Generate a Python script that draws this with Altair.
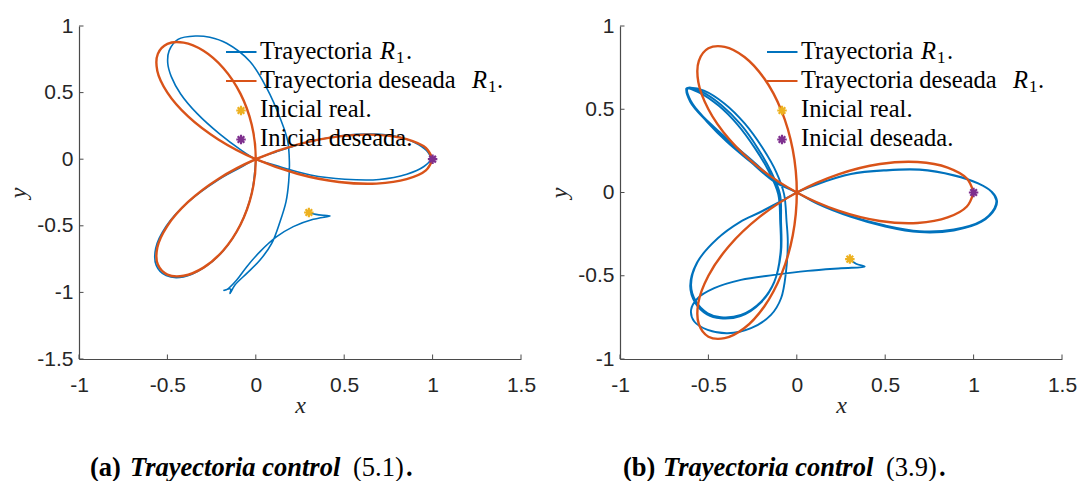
import altair as alt
import pandas as pd

# ---- desired trajectory (three-petal rose), same in both panels ----
DESIRED_X = [1.000, 0.962, 0.853, 0.683, 0.470, 0.235, 0.000, -0.212, -0.383, -0.500,
             -0.557, -0.554, -0.500, -0.408, -0.296, -0.183, -0.087, -0.023, 0.000,
             -0.023, -0.087, -0.183, -0.296, -0.408, -0.500, -0.554, -0.557, -0.500,
             -0.383, -0.212, 0.000, 0.235, 0.470, 0.683, 0.853, 0.962, 1.000]
DESIRED_Y = [0.000, 0.084, 0.150, 0.183, 0.171, 0.109, 0.000, -0.148, -0.321, -0.500,
             -0.663, -0.791, -0.866, -0.875, -0.814, -0.683, -0.492, -0.258, 0.000,
             0.258, 0.492, 0.683, 0.814, 0.875, 0.866, 0.791, 0.663, 0.500,
             0.321, 0.148, 0.000, -0.109, -0.171, -0.183, -0.150, -0.084, 0.000]

# ---- real trajectory, control (5.1) ----
REAL_A_X = [0.300, 0.340, 0.385, 0.420, 0.325, 0.212, 0.118, 0.024, -0.051, -0.108,
            -0.160, -0.180, -0.142, -0.146, -0.118, -0.051, 0.024, 0.090, 0.137, 0.171,
            0.186, 0.190, 0.180, 0.140, 0.062, -0.033, -0.165, -0.260, -0.340,
            -0.440, -0.490, -0.498, -0.478, -0.425, -0.330, -0.205, -0.085, 0.000,
            0.115, 0.309, 0.504, 0.698, 0.854, 0.951, 0.990, 0.975, 0.920, 0.820,
            0.680, 0.504, 0.309, 0.115, 0.000,
            -0.100, -0.212, -0.388, -0.508, -0.566, -0.563, -0.507, -0.409, -0.297,
            -0.184, -0.088, -0.024, 0.000]
REAL_A_Y = [-0.400, -0.414, -0.422, -0.426, -0.451, -0.506, -0.582, -0.694, -0.807, -0.907,
            -0.975, -0.985, -0.975, -1.008, -0.945, -0.857, -0.757, -0.632, -0.469, -0.318,
            -0.170, -0.020, 0.140, 0.300, 0.533, 0.733, 0.870, 0.915, 0.925,
            0.900, 0.815, 0.720, 0.620, 0.490, 0.340, 0.190, 0.070, 0.000,
            -0.048, -0.118, -0.150, -0.152, -0.113, -0.055, 0.000, 0.050, 0.110, 0.163,
            0.188, 0.180, 0.133, 0.055, 0.000,
            -0.072, -0.155, -0.328, -0.505, -0.668, -0.797, -0.874, -0.884, -0.818,
            -0.688, -0.494, -0.259, 0.000]

# ---- real trajectory, control (3.9) ----
REAL_B_X = [0.300, 0.335, 0.384,
            0.250, 0.062, -0.127, -0.316, -0.467, -0.560, -0.598, -0.580, -0.504, -0.391,
            -0.259, -0.146, -0.089, -0.061, -0.051, -0.058, -0.072,
            -0.115, -0.195, -0.295, -0.410, -0.525, -0.600, -0.625,
            -0.612, -0.560, -0.470, -0.360, -0.240, -0.115, 0.000,
            0.115, 0.306, 0.500, 0.694, 0.888, 1.043, 1.118, 1.128, 1.100, 1.023,
            0.888, 0.694, 0.500, 0.306, 0.112, 0.000,
            -0.100, -0.200, -0.316, -0.447, -0.560, -0.598, -0.570, -0.504, -0.429,
            -0.316, -0.202, -0.127, -0.089, -0.089, -0.095,
            -0.146, -0.221, -0.316, -0.429, -0.542, -0.617,
            -0.598, -0.504, -0.391, -0.259, -0.127, 0.000,
            0.118, 0.306, 0.500, 0.694, 0.888, 1.045, 1.122, 1.132, 1.104, 1.025,
            0.888, 0.694, 0.500, 0.306, 0.112, 0.000,
            -0.100, -0.205, -0.322, -0.452, -0.565, -0.603, -0.575, -0.508, -0.432,
            -0.318, -0.204, -0.128, -0.092, -0.094, -0.105,
            -0.160, -0.238, -0.333, -0.443, -0.552, -0.622,
            -0.603, -0.508, -0.394, -0.262, -0.128, 0.000,
            0.117, 0.306, 0.500]
REAL_B_Y = [-0.400, -0.428, -0.445,
            -0.455, -0.471, -0.495, -0.525, -0.575, -0.635, -0.705, -0.775, -0.825, -0.845,
            -0.815, -0.735, -0.635, -0.475, -0.294, -0.174, -0.010,
            0.120, 0.270, 0.415, 0.535, 0.612, 0.630, 0.625,
            0.575, 0.490, 0.395, 0.290, 0.180, 0.065, 0.000,
            -0.062, -0.142, -0.198, -0.232, -0.222, -0.172, -0.094, -0.045, 0.006, 0.056,
            0.104, 0.138, 0.134, 0.112, 0.050, 0.000,
            -0.058, -0.113, -0.174, -0.275, -0.415, -0.555, -0.655, -0.725, -0.749,
            -0.735, -0.655, -0.535, -0.355, -0.174, -0.010,
            0.126, 0.266, 0.407, 0.527, 0.607, 0.627,
            0.547, 0.427, 0.306, 0.186, 0.066, 0.000,
            -0.068, -0.146, -0.204, -0.238, -0.228, -0.176, -0.096, -0.047, 0.004, 0.054,
            0.102, 0.136, 0.132, 0.110, 0.048, 0.000,
            -0.060, -0.118, -0.178, -0.280, -0.422, -0.562, -0.662, -0.732, -0.756,
            -0.742, -0.662, -0.540, -0.358, -0.176, -0.010,
            0.130, 0.268, 0.405, 0.522, 0.600, 0.624,
            0.545, 0.425, 0.303, 0.184, 0.065, 0.000,
            -0.066, -0.144, -0.200]

# initial points
REAL_START = (0.30, -0.40)
DESIRED_START = (1.0, 0.0)

X_TICKS = [-1, -0.5, 0, 0.5, 1, 1.5]
Y_TICKS_A = [-1.5, -1, -0.5, 0, 0.5, 1]
Y_TICKS_B = [-1, -0.5, 0, 0.5, 1]

LEGEND_LABELS = ["Trayectoria", "Trayectoria deseada", "Inicial real.", "Inicial deseada."]

BLUE = "#0072BD"
ORANGE = "#D95319"
YELLOW = "#EDB120"
PURPLE = "#7E2F8E"
INK = "#262626"
AXIS = "#4a4a4a"
W, H = 442, 333
SERIF = "Liberation Serif"
SANS = "Liberation Sans"
ASTERISK = "M-1,0L1,0M0,-1L0,1M-0.7,-0.7L0.7,0.7M-0.7,0.7L0.7,-0.7"
ONE = pd.DataFrame({"k": [0]})

LABEL_EXPR = "datum.value < 0 ? '-' + format(-datum.value, '~g') : format(datum.value, '~g')"


def text_piece(t, px, py, size=24.5, style="normal", weight="normal"):
    return alt.Chart(ONE).mark_text(
        text=t, align="left", baseline="alphabetic", font=SERIF, fontSize=size,
        fontStyle=style, fontWeight=weight, color="black",
    ).encode(x=alt.value(px), y=alt.value(py))


def star(px, py, color):
    return alt.Chart(ONE).mark_point(
        shape=ASTERISK, filled=False, size=90, strokeWidth=2.2, color=color, opacity=1
    ).encode(x=alt.value(px), y=alt.value(py))


def panel(real_x, real_y, real_width, ydom, yticks, tag, ref):
    xs = alt.Scale(domain=[-1, 1.5], nice=False, zero=False)
    ys = alt.Scale(domain=ydom, nice=False, zero=False)
    common = dict(labelExpr=LABEL_EXPR, grid=False, ticks=False, tickSize=0,
                  labelFlush=False, labelFont=SANS, labelFontSize=21, labelColor=INK,
                  domainColor=AXIS, domainWidth=1.2, titleFont=SERIF,
                  titleFontStyle="italic", titleFontWeight="normal", titleFontSize=24,
                  titleColor=INK, titleBaseline="middle")
    xax = alt.Axis(values=X_TICKS, title="x", labelPadding=15,
                   titleX=W / 2, titleY=46, **common)
    yax = alt.Axis(values=yticks, title="y", labelPadding=6,
                   titleX=-61, titleY=H / 2, titleAngle=270, **common)
    X = alt.X("x:Q", scale=xs, axis=xax)
    Y = alt.Y("y:Q", scale=ys, axis=yax)

    def curve(xv, yv, color, width):
        assert len(xv) == len(yv)
        df = pd.DataFrame({"x": xv, "y": yv, "i": list(range(len(xv)))})
        return alt.Chart(df).mark_line(
            color=color, strokeWidth=width, interpolate="catmull-rom"
        ).encode(x=X, y=Y, order="i:Q")

    real = curve(real_x, real_y, BLUE, real_width)
    desired = curve(DESIRED_X, DESIRED_Y, ORANGE, 2.4)

    starts = alt.Chart(pd.DataFrame({
        "x": [REAL_START[0], DESIRED_START[0]],
        "y": [REAL_START[1], DESIRED_START[1]],
        "c": [YELLOW, PURPLE],
    })).mark_point(shape=ASTERISK, filled=False, size=90, strokeWidth=2.2, opacity=1).encode(
        x=X, y=Y, color=alt.Color("c:N", scale=None))

    # inward tick marks
    xt = alt.Chart(pd.DataFrame({"x": X_TICKS})).mark_rule(color=AXIS, strokeWidth=1).encode(
        x=X, y=alt.value(H), y2=alt.value(H - 4.5))
    yt = alt.Chart(pd.DataFrame({"y": yticks})).mark_rule(color=AXIS, strokeWidth=1).encode(
        y=Y, x=alt.value(0), x2=alt.value(4.5))

    # legend
    leg = [
        alt.Chart(ONE).mark_rule(color=BLUE, strokeWidth=2).encode(
            x=alt.value(147), x2=alt.value(177.5), y=alt.value(26)),
        alt.Chart(ONE).mark_rule(color=ORANGE, strokeWidth=2).encode(
            x=alt.value(147), x2=alt.value(177.5), y=alt.value(55)),
        star(162, 84.5, YELLOW),
        star(162, 113.5, PURPLE),
        text_piece(LEGEND_LABELS[0], 181, 32.5),
        text_piece("R", 301, 32.5, style="italic"),
        text_piece("1", 317, 37, size=17),
        text_piece(".", 327, 32.5),
        text_piece(LEGEND_LABELS[1], 181, 61.5),
        text_piece("R", 393, 61.5, style="italic"),
        text_piece("1", 409, 66, size=17),
        text_piece(".", 418, 61.5),
        text_piece(LEGEND_LABELS[2], 181, 90.5),
        text_piece(LEGEND_LABELS[3], 181, 119.5),
    ]

    # caption below the panel
    cx = 11 if tag == "(a)" else 3
    cap = [
        text_piece(tag, cx, 449.5, size=26.5, weight="bold"),
        text_piece("Trayectoria control", cx + 40, 449.5, size=26.5, style="italic", weight="bold"),
        text_piece(ref, cx + 263, 449.5, size=26.5),
        text_piece(".", cx + 316, 449.5, size=26.5, weight="bold"),
    ]

    return alt.layer(real, desired, starts, xt, yt, *leg, *cap).properties(width=W, height=H)


left = panel(REAL_A_X, REAL_A_Y, 1.6, [-1.5, 1], Y_TICKS_A, "(a)", "(5.1)")
right = panel(REAL_B_X, REAL_B_Y, 1.9, [-1, 1], Y_TICKS_B, "(b)", "(3.9)")

chart = alt.hconcat(left, right, spacing=11).properties(
    padding={"left": 6, "top": 15, "right": 0, "bottom": 0}
).configure_view(stroke=None)

chart.save("out.html", embed_options={"renderer": "svg", "actions": False})
